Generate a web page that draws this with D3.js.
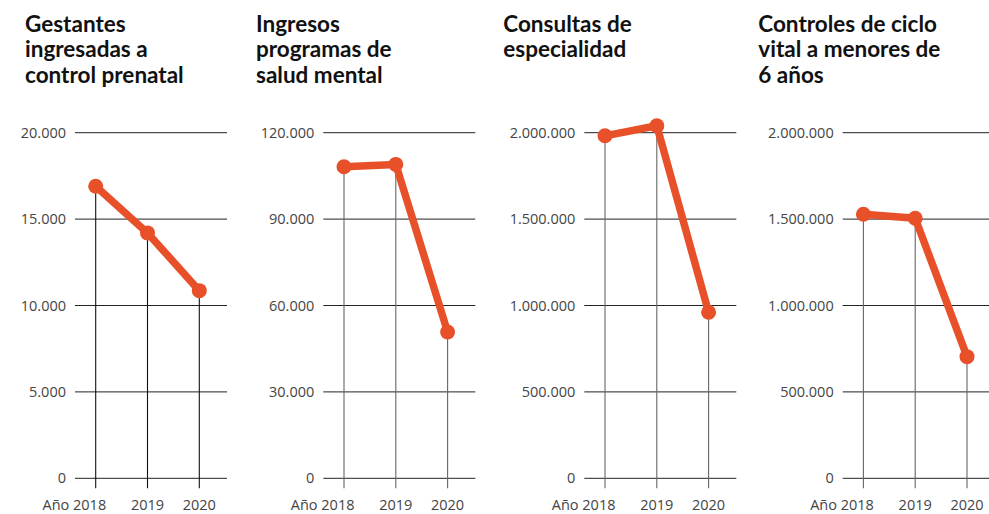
<!DOCTYPE html>
<html><head><meta charset="utf-8">
<script src="https://cdn.jsdelivr.net/npm/d3@7"></script>
<style>
body{margin:0;background:#fff;}
svg{display:block;}
.title{font-family:Lato,sans-serif;font-weight:700;font-size:22.5px;fill:#111;}
.tick{font-family:"Open Sans",sans-serif;font-size:14.5px;fill:#444;}
</style></head>
<body>
<script>
const years = ["2018","2019","2020"];
const titles = [
  ["Gestantes","ingresadas a","control prenatal"],
  ["Ingresos","programas de","salud mental"],
  ["Consultas de","especialidad"],
  ["Controles de ciclo","vital a menores de","6 años"]
];
const gestantes = [16900, 14200, 10860];
const saludMental = [108200, 109000, 50800];
const especialidad = [1982000, 2040000, 961000];
const cicloVital = [1528000, 1505000, 704000];
const yMax = [20000, 120000, 2000000, 2000000];
const series = [gestantes, saludMental, especialidad, cicloVital];

const W = 989, H = 514;
const svg = d3.select("body").append("svg").attr("width", W).attr("height", H);
const loc = d3.formatLocale({decimal:",", thousands:".", grouping:[3], currency:["$",""]});
const fmt = loc.format(",");

const gridX0 = [75, 323.3, 584.3, 842.7];
const titleX = [25, 256, 503.3, 758.3];
const gridW = 152;
const yTop = 132.7, yBot = 478.3;
const color = "#E8502A";

series.forEach((vals, i) => {
  const g = svg.append("g");
  const x0 = gridX0[i];
  const x = d3.scalePoint().domain(years).range([x0 + 20.7, x0 + 124.3]);
  const y = d3.scaleLinear().domain([0, yMax[i]]).range([yBot, yTop]);
  const ticks = d3.range(0, yMax[i] + 1, yMax[i] / 4);

  const t = g.append("text").attr("class","title").attr("x", titleX[i]).attr("y", 31.5);
  titles[i].forEach((line, k) => {
    t.append("tspan").attr("x", titleX[i]).attr("dy", k === 0 ? 0 : 25.7).text(line);
  });

  g.selectAll(".grid").data(ticks).join("line")
    .attr("x1", x0).attr("x2", Math.min(x0 + gridW, W))
    .attr("y1", d => y(d)).attr("y2", d => y(d))
    .attr("stroke", "#222").attr("stroke-width", 1);
  g.selectAll(".ytl").data(ticks).join("text").attr("class","tick")
    .attr("x", x0 - 9).attr("y", d => y(d)).attr("dy", "0.35em")
    .attr("text-anchor","end").text(d => fmt(d));

  g.selectAll(".stem").data(vals).join("line")
    .attr("x1", (d, k) => x(years[k])).attr("x2", (d, k) => x(years[k]))
    .attr("y1", d => y(d)).attr("y2", yBot + 10)
    .attr("stroke", i === 0 ? "#111" : "#666").attr("stroke-width", 1.1);

  g.selectAll(".xtl").data(years).join("text").attr("class","tick")
    .attr("x", (d, k) => k === 0 ? x(d) + 10.5 : x(d)).attr("y", 510)
    .attr("text-anchor", (d, k) => k === 0 ? "end" : "middle")
    .text((d, k) => k === 0 ? "Año " + d : d);

  const line = d3.line().x((d, k) => x(years[k])).y(d => y(d));
  g.append("path").datum(vals).attr("d", line)
    .attr("fill","none").attr("stroke", color).attr("stroke-width", 7.5)
    .attr("stroke-linejoin","round");
  g.selectAll(".dot").data(vals).join("circle")
    .attr("cx", (d, k) => x(years[k])).attr("cy", d => y(d)).attr("r", 7.5)
    .attr("fill", color);
});
</script>
</body></html>
